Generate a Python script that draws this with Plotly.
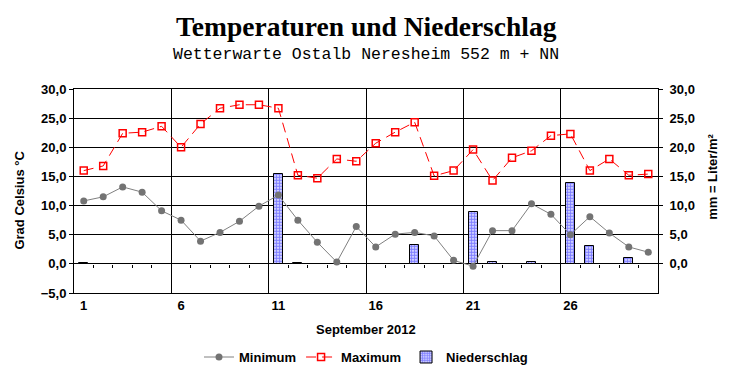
import plotly.graph_objects as go

days = list(range(1, 31))
t_min = [10.8, 11.5, 13.2, 12.3, 9.1, 7.5, 3.9, 5.4, 7.3, 9.9,
         11.8, 7.5, 3.7, 0.3, 6.4, 2.9, 5.1, 5.4, 4.8, 0.6,
         -0.4, 5.7, 5.7, 10.3, 8.5, 5.0, 8.1, 5.3, 2.9, 2.0]
t_max = [16.0, 16.8, 22.4, 22.6, 23.6, 20.0, 24.0, 26.7, 27.3, 27.3,
         26.7, 15.2, 14.7, 18.0, 17.6, 20.7, 22.6, 24.3, 15.1, 16.0,
         19.6, 14.3, 18.2, 19.4, 22.0, 22.3, 16.0, 18.0, 15.2, 15.4]
precip = [0.1, None, None, None, None, None, None, None, None, None,
          15.4, 0.1, None, None, None, None, None, 3.3, None, None,
          8.9, 0.3, None, 0.3, None, 13.9, 3.1, None, 1.0, None]
day_ticks = [1, 6, 11, 16, 21, 26]
y_ticks = [-5, 0, 5, 10, 15, 20, 25, 30]
y2_ticks = [0, 5, 10, 15, 20, 25, 30]
week_lines = [5.5, 10.5, 15.5, 20.5, 25.5]
day_bounds = [d + 0.5 for d in range(1, 30)]

FONT = "Liberation Sans"
bold13 = dict(family=FONT, size=13, color="black", weight="bold")

fig = go.Figure()
fig.add_trace(go.Bar(
    x=days, y=precip, name="Niederschlag", width=0.46,
    marker=dict(color="white", line=dict(color="black", width=1),
                pattern=dict(shape=".", fgcolor="#0000ff", bgcolor="white",
                             size=3, solidity=0.7)),
    xaxis="x", yaxis="y", legendrank=3))
# helper (invisible) traces so the overlay axes are drawn
for xa in ("x2", "x3"):
    fig.add_trace(go.Scatter(
        x=days, y=t_min, mode="markers", marker=dict(opacity=0),
        showlegend=False, hoverinfo="skip", xaxis=xa, yaxis="y"))
fig.add_trace(go.Scatter(
    x=days, y=t_min, name="Minimum", mode="lines+markers",
    line=dict(color="#808080", width=1),
    marker=dict(symbol="circle", size=7, color="#737373"),
    xaxis="x", yaxis="y2", legendrank=1))
fig.add_trace(go.Scatter(
    x=days, y=t_max, name="Maximum", mode="lines+markers",
    line=dict(color="#ff0000", width=1, dash="10px,6px"),
    marker=dict(symbol="square-open", size=7, color="#ff0000",
                line=dict(width=1.5)),
    xaxis="x", yaxis="y2", legendrank=2))

xr = [0.5, 30.5]
yr = [-5, 30]
fig.update_layout(
    width=732, height=380,
    margin=dict(l=74, r=74, t=89, b=87, autoexpand=False),
    paper_bgcolor="white", plot_bgcolor="white",
    separators=",.",
    showlegend=True,
    bargap=0,
    legend=dict(orientation="h", x=0.5, xanchor="center", y=-0.314,
                yanchor="middle", font=bold13, traceorder="normal",
                itemwidth=30),
    xaxis=dict(range=xr, tickvals=day_ticks, ticks="", showgrid=False,
               zeroline=False, showline=True, linecolor="black",
               linewidth=1, mirror=True, tickfont=bold13),
    xaxis2=dict(range=xr, overlaying="x", anchor="free",
                position=5 / 35, tickvals=day_bounds, ticks="outside",
                ticklen=3, tickcolor="black", showticklabels=False,
                showgrid=False, showline=False, zeroline=False),
    xaxis3=dict(range=xr, overlaying="x", anchor="y", tickvals=week_lines,
                ticks="", showticklabels=False, showgrid=True,
                gridcolor="black", gridwidth=1, showline=False,
                zeroline=False),
    yaxis=dict(range=yr, tickvals=y_ticks, tickformat=".1f",
               ticks="outside", ticklen=4, tickcolor="black",
               showgrid=True, gridcolor="black", gridwidth=1,
               zeroline=True, zerolinecolor="black", zerolinewidth=1,
               showline=True, linecolor="black", linewidth=1,
               tickfont=bold13),
    yaxis2=dict(range=yr, tickvals=y2_ticks, tickformat=".1f",
                overlaying="y", side="right", anchor="x",
                ticks="outside", ticklen=4, tickcolor="black",
                showgrid=False, zeroline=False,
                showline=True, linecolor="black", linewidth=1,
                ticklabelstandoff=4, tickfont=bold13),
)

fig.add_annotation(text="Temperaturen und Niederschlag", xref="paper",
                   yref="paper", x=0.5, y=1.304, showarrow=False,
                   yanchor="middle",
                   font=dict(family="Liberation Serif", size=27.5,
                             color="black", weight="bold"))
fig.add_annotation(text="Wetterwarte Ostalb Neresheim 552 m + NN",
                   xref="paper", yref="paper", x=0.5, y=1.167,
                   showarrow=False, yanchor="middle",
                   font=dict(family="Liberation Mono", size=16.5,
                             color="black"))
fig.add_annotation(text="Grad Celsius °C", xref="paper", yref="paper",
                   x=-0.0925, y=0.458, xanchor="center", yanchor="middle",
                   textangle=-90, showarrow=False, font=bold13)
fig.add_annotation(text="mm = Liter/m²", xref="paper", yref="paper",
                   x=1.094, y=0.569, xanchor="center", yanchor="middle",
                   textangle=-90, showarrow=False, font=bold13)
fig.add_annotation(text="September 2012", xref="paper", yref="paper",
                   x=0.5, y=-0.181, showarrow=False, yanchor="middle",
                   font=bold13)

fig.write_html("out.html", config={"displayModeBar": False},
               post_script="document.body.style.margin='0';")
